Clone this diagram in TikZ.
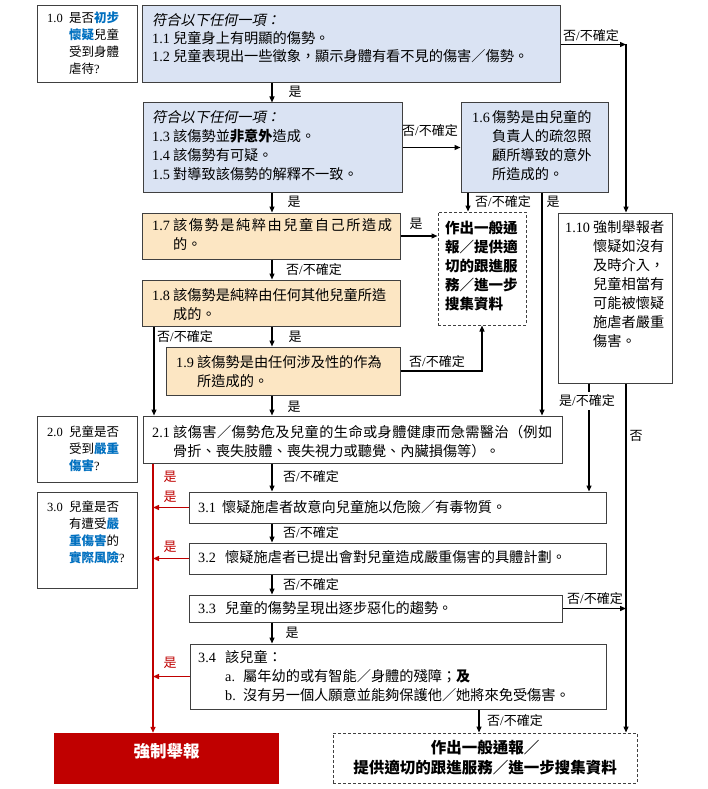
\documentclass[tikz,border=0pt]{standalone}
\usepackage{fontspec}
\setmainfont{Noto Sans CJK TC}
\newfontfamily\tnr{Liberation Serif}
\newfontfamily\cjkit[FakeSlant=0.2]{Noto Sans CJK TC}
\usetikzlibrary{arrows.meta,fit}
\XeTeXlinebreaklocale "zh"
\XeTeXlinebreakskip=0pt plus 3pt
\definecolor{bluefill}{HTML}{DAE3F3}
\definecolor{orfill}{HTML}{FCE6C3}
\definecolor{hlblue}{HTML}{0070C0}
\definecolor{mred}{HTML}{C00000}
\definecolor{bord}{HTML}{404040}
\newcommand\rmn[1]{{\tnr #1}}
\newcommand\lab[2][21pt]{\makebox[#1][l]{\rmn{#2}}}
\newcommand\ind[1][21pt]{\hspace*{#1}}
\newcommand\hl[1]{\textcolor{hlblue}{\bfseries #1}}
\newcommand\nsure{否{\tnr /}不確定}
\newcommand\ysure{是{\tnr /}不確定}
\newcommand\fullline[2]{\parbox[t]{#1}{\noindent\parfillskip=0pt\relax #2\par}}
\tikzset{
 wbox/.style={draw=bord, line width=1pt, inner sep=0pt},
 bbox/.style={wbox, fill=bluefill},
 obox/.style={wbox, fill=orfill},
 dbox/.style={draw=black!75, line width=1pt, dash pattern=on 3pt off 2pt, inner sep=0pt},
 txt/.style={anchor=north west, inner sep=0pt, align=left, font=\fontsize{14.2}{19}\selectfont},
 stxt/.style={txt, font=\fontsize{12.5}{17}\selectfont},
 lbl/.style={inner sep=0.5pt, font=\fontsize{13}{15}\selectfont},
 rlbl/.style={lbl, text=mred},
 arr/.style={line width=1.3pt, -{Triangle[length=6pt,width=5pt]}},
 ln/.style={line width=1.3pt},
 rarr/.style={arr, draw=mred},
}
\begin{document}
\begin{tikzpicture}[x=1pt,y=-1pt]
\fill[white] (0,0) rectangle (707,789);
\useasboundingbox (0,0) rectangle (707,789);
% x positions
\coordinate (xs) at (272,0);
\coordinate (xl) at (154,0);
\coordinate (xr) at (153,0);
\coordinate (x468) at (468,0);
\coordinate (x482) at (482,0);
\coordinate (x542) at (542,0);
\coordinate (x589) at (589,0);
\coordinate (x626) at (626,0);
\coordinate (x479) at (479,0);
% boxes
\node[wbox, fit={(37,6) (137,83)}] (b10) {};
\node[bbox, fit={(142,6) (560,83)}] (b11) {};
\node[bbox, fit={(143,103) (402,192)}] (b13) {};
\node[bbox, fit={(461,103) (608,192)}] (b16) {};
\node[dbox, fit={(438,212) (526,325)}] (d1) {};
\node[obox, fit={(142,213) (400,259)}] (b17) {};
\node[obox, fit={(142,280) (400,326)}] (b18) {};
\node[obox, fit={(166,347) (400,395)}] (b19) {};
\node[wbox, fit={(558,213) (672,383)}] (b110) {};
\node[wbox, fit={(37,416) (137,482)}] (b20) {};
\node[wbox, fit={(143,416) (562,463)}] (b21) {};
\node[wbox, fit={(37,492) (137,588)}] (b30) {};
\node[wbox, fit={(189,492) (606,523)}] (b31) {};
\node[wbox, fit={(189,543) (606,574)}] (b32) {};
\node[wbox, fit={(189,595) (562,622)}] (b33) {};
\node[wbox, fit={(190,644) (606,709)}] (b34) {};
\node[dbox, fit={(333,733) (637,783)}] (d2) {};
\node[fill=mred, inner sep=0pt, fit={(54,733) (279,784)}, text=white, font=\fontsize{16.5}{18}\selectfont\bfseries] (mand) {強制舉報};
% texts
\node[stxt] (t10) at (47,11.5) {\lab[22pt]{1.0}是否\hl{初步}\\ \ind[22pt]\hl{懷疑}兒童\\ \ind[22pt]受到身體\\ \ind[22pt]虐待\rmn{?}};
\node[txt, font=\fontsize{14.2}{18}\selectfont] (t11) at (152,13.5) {{\cjkit 符合以下任何一項：}\\ \lab{1.1}兒童身上有明顯的傷勢。\\ \lab{1.2}兒童表現出一些徵象，顯示身體有看不見的傷害／傷勢。};
\node[txt] (t13) at (152,110.5) {{\cjkit 符合以下任何一項：}\\ \lab{1.3}該傷勢並{\bfseries 非意外}造成。\\ \lab{1.4}該傷勢有可疑。\\ \lab{1.5}對導致該傷勢的解釋不一致。};
\node[txt] (t16) at (472,110.5) {\lab[20pt]{1.6}傷勢是由兒童的\\ \ind[20pt]負責人的疏忽照\\ \ind[20pt]顧所導致的意外\\ \ind[20pt]所造成的。};
\node[txt, font=\fontsize{14.5}{19}\selectfont\bfseries] (td1) at (445,220.5) {作出一般通\\ 報／提供適\\ 切的跟進服\\ 務／進一步\\ 搜集資料};
\node[txt] (t17) at (152,218.5) {\fullline{240pt}{\lab{1.7}該傷勢是純粹由兒童自己所造成}\\ \ind 的。};
\node[txt] (t18) at (152,288.5) {\lab{1.8}該傷勢是純粹由任何其他兒童所造\\ \ind 成的。};
\node[txt] (t19) at (176,355.5) {\lab{1.9}該傷勢是由任何涉及性的作為\\ \ind 所造成的。};
\node[txt] (t110) at (565,220.5) {\lab[28pt]{1.10}強制舉報者\\ \ind[28pt]懷疑如沒有\\ \ind[28pt]及時介入，\\ \ind[28pt]兒童相當有\\ \ind[28pt]可能被懷疑\\ \ind[28pt]施虐者嚴重\\ \ind[28pt]傷害。};
\node[stxt] (t20) at (47,425.5) {\lab[22pt]{2.0}兒童是否\\ \ind[22pt]受到\hl{嚴重}\\ \ind[22pt]\hl{傷害}\rmn{?}};
\node[txt] (t21) at (152,425.5) {\fullline{400pt}{\lab{2.1}該傷害／傷勢危及兒童的生命或身體健康而急需醫治（例如}\\ \ind 骨折、喪失肢體、喪失視力或聽覺、內臟損傷等）。};
\node[stxt] (t30) at (47,500.5) {\lab[22pt]{3.0}兒童是否\\ \ind[22pt]有遭受\hl{嚴}\\ \ind[22pt]\hl{重傷害}的\\ \ind[22pt]\hl{實際風險}\rmn{?}};
\node[txt] (t31) at (198,500.5) {\lab[24pt]{3.1}懷疑施虐者故意向兒童施以危險／有毒物質。};
\node[txt] (t32) at (198,550.5) {\lab[27pt]{3.2}懷疑施虐者已提出會對兒童造成嚴重傷害的具體計劃。};
\node[txt] (t33) at (198,601.5) {\lab[27pt]{3.3}兒童的傷勢呈現出逐步惡化的趨勢。};
\node[txt] (t34) at (198,650.5) {\lab[27pt]{3.4}該兒童：\\ \ind[27pt]\lab[18pt]{a.}屬年幼的或有智能／身體的殘障；{\bfseries 及}\\ \ind[27pt]\lab[18pt]{b.}沒有另一個人願意並能夠保護他／她將來免受傷害。};
\node[align=center, inner sep=0pt, font=\fontsize{15.5}{20}\selectfont\bfseries] (td2) at (485,758) {作出一般通報／\\ 提供適切的跟進服務／進一步搜集資料};
% connectors
\coordinate (c1) at (b11.east -| x626);
\draw[arr] (b11.east) -- (c1);
\draw[arr] (c1) -- (b110.north -| x626);
\draw[arr] (b11.south -| xs) -- (b13.north -| xs);
\draw[arr] (b13.east) -- (b16.west);
\draw[arr] (b13.south -| xs) -- (b17.north -| xs);
\draw[arr] (b16.south -| x468) -- (d1.north -| x468);
\draw[arr] (b16.south -| x542) -- (b21.north -| x542);
\draw[arr] (b17.east) -- (b17.east -| d1.west);
\draw[arr] (b17.south -| xs) -- (b18.north -| xs);
\draw[arr] (b18.south -| xs) -- (b19.north -| xs);
\draw[arr] (b18.south -| xl) -- (b21.north -| xl);
\draw[arr] (b19.east) -| (d1.south -| x482);
\draw[arr] (b19.south -| xs) -- (b21.north -| xs);
\draw[arr] (b110.south -| x589) -- (b31.north -| x589);
\draw[arr] (b110.south -| x626) -- (d2.north -| x626);
\draw[arr] (b21.south -| xs) -- (b31.north -| xs);
\draw[arr] (b31.south -| xs) -- (b32.north -| xs);
\draw[arr] (b32.south -| xs) -- (b33.north -| xs);
\draw[arr] (b33.south -| xs) -- (b34.north -| xs);
\draw[arr] (b33.east) -- (b33.east -| x626);
\draw[arr] (b34.south -| x479) -- (d2.north -| x479);
\draw[rarr] (b21.south -| xr) -- (mand.north -| xr);
\draw[rarr] (b31.west) -- (b31.west -| xr);
\draw[rarr] (b32.west) -- (b32.west -| xr);
\draw[rarr] (b34.west) -- (b34.west -| xr);
% labels
\node[lbl] (l1) at (591,36) {\nsure};
\node[lbl] (l2) at (295,92) {是};
\node[lbl] (l3) at (430,131) {\nsure};
\node[lbl] (l4) at (294,202) {是};
\node[lbl] (l5) at (503,202) {\nsure};
\node[lbl] (l6) at (553,202) {是};
\node[lbl] (l7) at (416,224) {是};
\node[lbl] (l8) at (314,270) {\nsure};
\node[lbl] (l9) at (185,337) {\nsure};
\node[lbl] (l10) at (295,337) {是};
\node[lbl] (l11) at (437,362) {\nsure};
\node[lbl] (l12) at (294,407) {是};
\node[lbl, fill=white, inner ysep=3pt] (l13) at (587,401) {\ysure};
\node[lbl] (l14) at (636,436) {否};
\node[rlbl] (l15) at (170,477) {是};
\node[lbl] (l16) at (311,477) {\nsure};
\node[rlbl] (l17) at (170,497) {是};
\node[lbl] (l18) at (311,533) {\nsure};
\node[rlbl] (l19) at (170,547) {是};
\node[lbl] (l20) at (311,585) {\nsure};
\node[lbl] (l21) at (292,633) {是};
\node[rlbl] (l22) at (170,663) {是};
\node[lbl] (l23) at (595,599) {\nsure};
\node[lbl] (l24) at (515,721) {\nsure};
\end{tikzpicture}
\end{document}
